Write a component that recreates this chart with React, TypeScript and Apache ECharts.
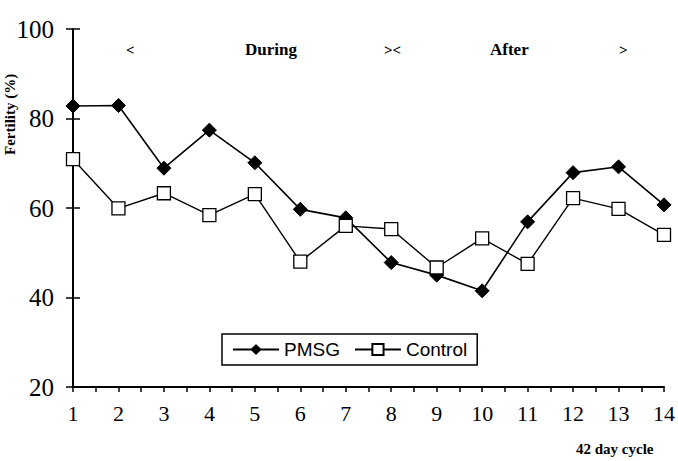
import React, { useEffect, useRef } from "react";
import * as echarts from "echarts";

const cycles = [1, 2, 3, 4, 5, 6, 7, 8, 9, 10, 11, 12, 13, 14];
const pmsg = [82.8, 82.9, 68.9, 77.4, 70.1, 59.7, 57.8, 47.8, 45.0, 41.5, 56.9, 67.9, 69.2, 60.7];
const control = [70.9, 59.9, 63.3, 58.4, 63.1, 48.0, 56.0, 55.3, 46.7, 53.2, 47.5, 62.2, 59.8, 54.0];
const yTicks = [20, 40, 60, 80, 100];

const serif = "'Liberation Serif', 'DejaVu Serif', serif";

export default function App() {
  const ref = useRef<HTMLDivElement>(null);
  useEffect(() => {
    const chart = echarts.init(ref.current!, undefined, { renderer: "svg" });
    chart.setOption({
      animation: false,
      backgroundColor: "#fff",
      grid: { left: 73, right: 11, top: 29, bottom: 74 },
      xAxis: {
        type: "value",
        min: 1,
        max: 14,
        interval: 1,
        axisLine: { lineStyle: { color: "#000", width: 2 } },
        axisTick: { show: true, length: 5, inside: false, lineStyle: { color: "#000", width: 1.5 } },
        minorTick: { show: true, splitNumber: 2, length: 5, lineStyle: { color: "#000", width: 1.5 } },
        axisLabel: { color: "#000", fontFamily: serif, fontSize: 22, margin: 15 },
        splitLine: { show: false },
      },
      yAxis: [
        {
          type: "value",
          min: yTicks[0],
          max: yTicks[yTicks.length - 1],
          interval: 20,
          axisLine: { show: true, lineStyle: { color: "#000", width: 2 } },
          axisTick: { show: true, length: 7, lineStyle: { color: "#000", width: 1.5 } },
          axisLabel: { color: "#000", fontFamily: serif, fontSize: 25, margin: 19 },
          splitLine: { show: false },
        },
        {
          type: "value",
          position: "left",
          min: yTicks[0],
          max: yTicks[yTicks.length - 1],
          interval: 20,
          axisLine: { show: false },
          axisTick: { show: true, inside: true, length: 7, lineStyle: { color: "#000", width: 1.5 } },
          axisLabel: { show: false },
          splitLine: { show: false },
        },
      ],
      legend: {
        left: 222,
        top: 334,
        itemWidth: 46,
        itemHeight: 14,
        itemGap: 14,
        padding: [6, 10, 6, 10],
        borderColor: "#000",
        borderWidth: 1.5,
        textStyle: { color: "#000", fontFamily: "'Liberation Sans', Arial, sans-serif", fontSize: 19 },
        data: ["PMSG", "Control"],
      },
      series: [
        {
          name: "PMSG",
          type: "line",
          data: cycles.map((c, i) => [c, pmsg[i]]),
          symbol: "diamond",
          symbolSize: 14,
          lineStyle: { color: "#000", width: 1.6 },
          itemStyle: { color: "#000", borderColor: "#000" },
          z: 3,
        },
        {
          name: "Control",
          type: "line",
          data: cycles.map((c, i) => [c, control[i]]),
          symbol: "rect",
          symbolSize: 13,
          lineStyle: { color: "#000", width: 1.4 },
          itemStyle: { color: "#fff", borderColor: "#000", borderWidth: 1.3 },
          z: 4,
        },
      ],
      graphic: [
        { type: "text", left: 126, top: 42, style: { text: "<", font: `bold 15px ${serif}`, fill: "#000" } },
        { type: "text", left: 245, top: 41, style: { text: "During", font: `bold 17px ${serif}`, fill: "#000" } },
        { type: "text", left: 384, top: 42, style: { text: "><", font: `bold 15px ${serif}`, fill: "#000" } },
        { type: "text", left: 490, top: 41, style: { text: "After", font: `bold 17px ${serif}`, fill: "#000" } },
        { type: "text", left: 619, top: 42, style: { text: ">", font: `bold 15px ${serif}`, fill: "#000" } },
        { type: "text", left: 576, top: 441, style: { text: "42 day cycle", font: `bold 15px ${serif}`, fill: "#000" } },
        {
          type: "text",
          x: 2,
          y: 155,
          rotation: Math.PI / 2,
          style: { text: "Fertility (%)", font: `bold 15px ${serif}`, fill: "#000" },
        },
      ],
    });
    return () => chart.dispose();
  }, []);
  return <div ref={ref} style={{ width: 678, height: 461, position: "absolute", left: 0, top: 0 }} />;
}
